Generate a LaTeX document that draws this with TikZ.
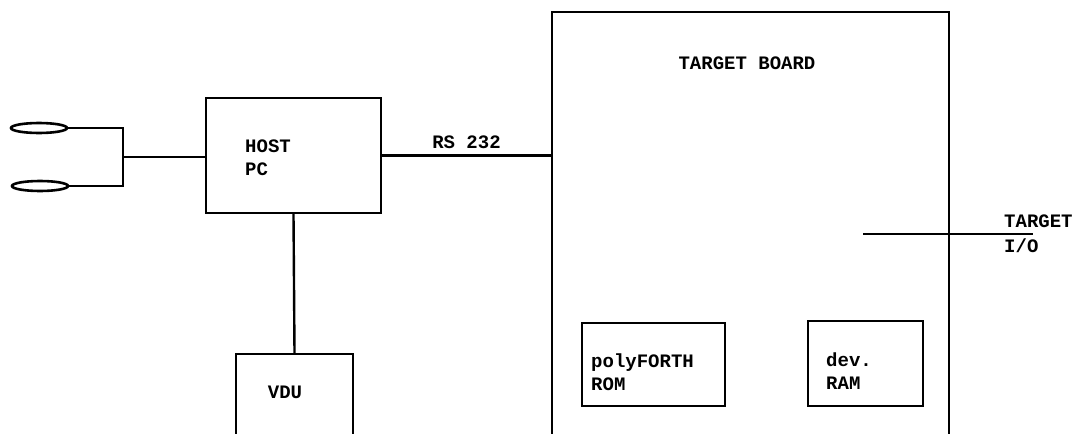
\documentclass[tikz,border=0pt]{standalone}
\usepackage{fontspec}
\setmainfont{Liberation Mono}
\usetikzlibrary{positioning,shapes.geometric}
\tikzset{
  box/.style  ={draw,line width=2.4pt,rectangle,inner sep=0pt},
  pod/.style  ={draw,line width=2.6pt,ellipse,inner sep=0pt,
                minimum width=56pt,minimum height=10pt},
  wire/.style ={line width=2.4pt},
  lbl/.style  ={font=\fontsize{19}{23}\selectfont\bfseries,align=left,inner sep=0pt},
}
\begin{document}
\begin{tikzpicture}[x=1pt,y=-1pt]
  \useasboundingbox (0,0) rectangle (1080,434);
  \clip (0,0) rectangle (1080,434);

  % blocks
  \node[box,minimum width=175pt,minimum height=115pt] (host) at (293.5,155.5) {};
  \node[box,minimum width=117pt,minimum height=110pt] (vdu) at (294.5,409) {};
  \node[box,minimum width=397pt,minimum height=450pt] (board) at (750.5,237) {};
  \node[box,minimum width=143pt,minimum height=83pt] (rom) at (653.5,364.5) {};
  \node[box,minimum width=115pt,minimum height=85pt] (ram) at (865.5,363.5) {};

  % pods
  \node[pod] (pod1) at (39,128) {};
  \node[pod] (pod2) at (40,186) {};
  \coordinate (jn) at (123,157);

  % texts
  \node[lbl,anchor=west] (hostlbl) at (245,158) {HOST\\PC};
  \node[lbl] (vdulbl) at (285,392) {VDU};
  \node[lbl] (boardlbl) at (747,63) {TARGET BOARD};
  \node[lbl,anchor=west] (romlbl) at (591,372) {polyFORTH\\ROM};
  \node[lbl,anchor=west] (ramlbl) at (826,371) {dev.\\RAM};

  % connections
  \draw[wire] (pod1.east) -| (jn) |- (pod2.east);
  \draw[wire] (jn) -- (jn -| host.west);
  \draw[wire] (host.east) -- (host.east -| board.west)
    node[lbl,midway,above=6pt] (rslbl) {RS 232};
  \draw[wire] (host.south) -- (vdu.north);

  \coordinate (ioa) at (863,234);
  \coordinate (iob) at (1033,234);
  \draw[wire] (ioa) -- (iob);
  \node[lbl,anchor=south west] (iotop) at (1004,228) {TARGET};
  \node[lbl,anchor=north west] (iobot) at (1004,239) {I/O};
\end{tikzpicture}
\end{document}
